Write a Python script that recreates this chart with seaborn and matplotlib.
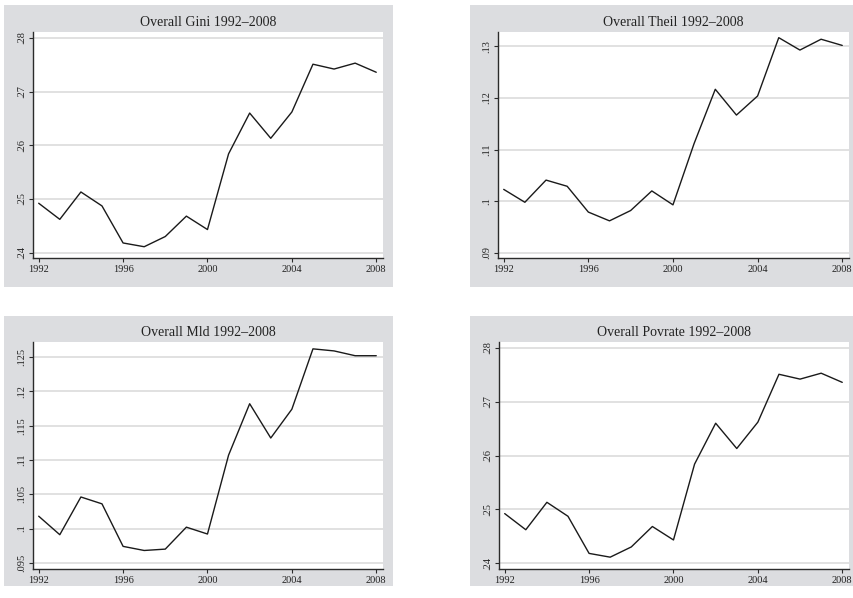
import numpy as np
import pandas as pd
import matplotlib
matplotlib.use("Agg")
import matplotlib.pyplot as plt
import matplotlib.patches as mpatches
import seaborn as sns

# ---- data ----
years = list(range(1992, 2009))
gini = [0.2492, 0.2462, 0.2513, 0.2487, 0.2418, 0.2411, 0.2430, 0.2468, 0.2443,
        0.2584, 0.2660, 0.2613, 0.2662, 0.2751, 0.2742, 0.2753, 0.2736]
theil = [0.1023, 0.0998, 0.1041, 0.1029, 0.0979, 0.0962, 0.0982, 0.1020, 0.0993,
         0.1112, 0.1217, 0.1167, 0.1204, 0.1317, 0.1293, 0.1314, 0.1302]
mld = [0.1018, 0.0991, 0.1046, 0.1036, 0.0974, 0.0968, 0.0970, 0.1002, 0.0992,
       0.1107, 0.1182, 0.1132, 0.1174, 0.1262, 0.1259, 0.1252, 0.1252]
povrate = [0.2492, 0.2462, 0.2513, 0.2487, 0.2418, 0.2411, 0.2430, 0.2468, 0.2443,
           0.2584, 0.2660, 0.2613, 0.2662, 0.2751, 0.2742, 0.2753, 0.2736]

titles = ["Overall Gini 1992\u20132008", "Overall Theil 1992\u20132008",
          "Overall Mld 1992\u20132008", "Overall Povrate 1992\u20132008"]
x_ticks = [1992, 1996, 2000, 2004, 2008]
x_ticklabels = ["1992", "1996", "2000", "2004", "2008"]
gini_ticks = [0.24, 0.25, 0.26, 0.27, 0.28]
gini_labels = [".24", ".25", ".26", ".27", ".28"]
theil_ticks = [0.09, 0.10, 0.11, 0.12, 0.13]
theil_labels = [".09", ".1", ".11", ".12", ".13"]
mld_ticks = [0.095, 0.100, 0.105, 0.110, 0.115, 0.120, 0.125]
mld_labels = [".095", ".1", ".105", ".11", ".115", ".12", ".125"]
pov_ticks = [0.24, 0.25, 0.26, 0.27, 0.28]
pov_labels = [".24", ".25", ".26", ".27", ".28"]

series = [gini, theil, mld, povrate]
yticks = [gini_ticks, theil_ticks, mld_ticks, pov_ticks]
ylabels = [gini_labels, theil_labels, mld_labels, pov_labels]
ylims = [(0.2390, 0.2811), (0.0890, 0.1328), (0.0941, 0.1272), (0.2389, 0.2811)]

sns.set_theme(style="white")
plt.rcParams['font.family'] = ['Liberation Serif', 'DejaVu Serif']

W, H = 854, 598
fig = plt.figure(figsize=(W / 100, H / 100), dpi=100)
fig.patch.set_facecolor("white")

# pixel boxes: (gray box), (axes box) as (x0, y0, x1, y1) top-left origin
bg_boxes = [(4, 5, 393, 287), (470, 5, 854, 287), (4, 316, 393, 586), (470, 316, 854, 586)]
ax_boxes = [(33, 32, 383, 258), (498, 32, 849, 258), (33, 342, 383, 569), (499, 342, 849, 569)]

BG = "#dcdde0"
GRID = "#d9d9d9"
AXC = "#2b2b2b"

for i in range(4):
    gx0, gy0, gx1, gy1 = bg_boxes[i]
    fig.patches.append(mpatches.Rectangle((gx0 / W, 1 - gy1 / H), (gx1 - gx0) / W, (gy1 - gy0) / H,
                                          transform=fig.transFigure, facecolor=BG,
                                          edgecolor="none", zorder=-10))
    x0, y0, x1, y1 = ax_boxes[i]
    ax = fig.add_axes([x0 / W, 1 - y1 / H, (x1 - x0) / W, (y1 - y0) / H])
    ax.set_zorder(1)
    ax.set_facecolor("white")
    df = pd.DataFrame({"year": years, "value": series[i]})
    sns.lineplot(data=df, x="year", y="value", ax=ax, color="#1a1a1a", linewidth=1.0)
    ax.set_xlim(1991.73, 2008.32)
    ax.set_ylim(*ylims[i])
    ax.set_xticks(x_ticks)
    ax.set_xticklabels(x_ticklabels)
    ax.set_yticks(yticks[i])
    ax.set_yticklabels(ylabels[i], rotation=90, va="center")
    ax.set_xlabel("")
    ax.set_ylabel("")
    for t in yticks[i]:
        ax.axhline(t, color=GRID, linewidth=1.1, zorder=0.5)
    for s in ["top", "right"]:
        ax.spines[s].set_visible(False)
    for s in ["left", "bottom"]:
        ax.spines[s].set_color(AXC)
        ax.spines[s].set_linewidth(1.0)
    ax.tick_params(axis="both", which="major", direction="out", length=3, width=0.8,
                   color=AXC, labelsize=7.5, labelcolor="#222222", pad=2,
                   bottom=True, left=True)
    ax.set_title(titles[i], fontsize=10, color="#222222", pad=4.5)

fig.savefig("out.png", dpi=100, facecolor="white")
